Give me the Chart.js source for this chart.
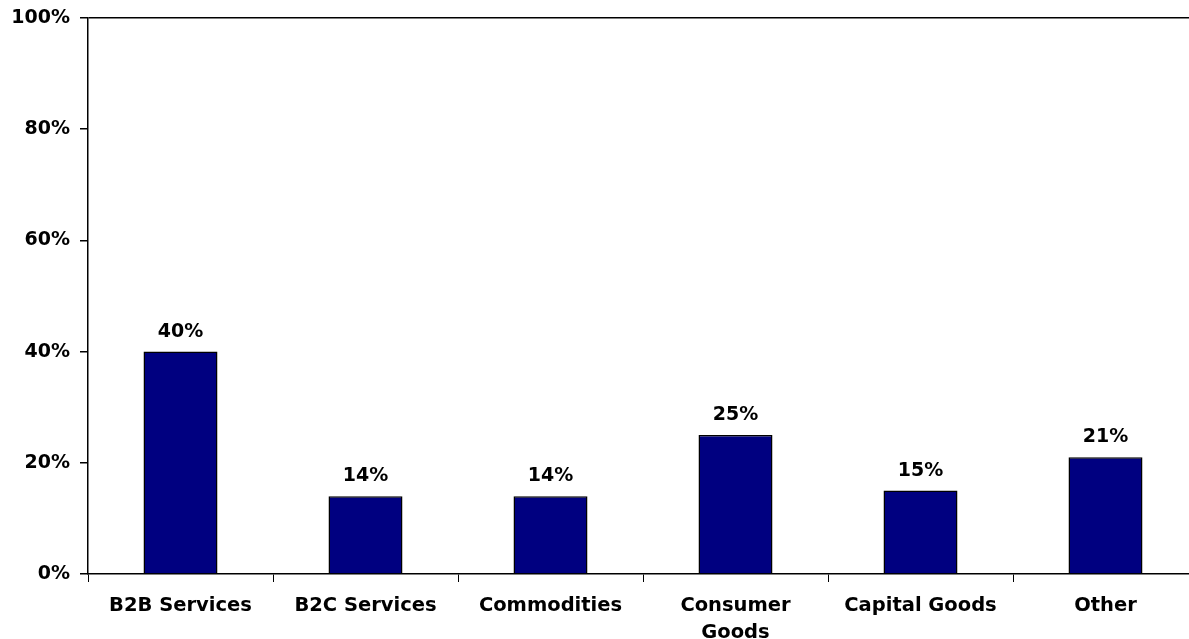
<!DOCTYPE html>
<html>
<head>
<meta charset="utf-8">
<script src="https://cdn.jsdelivr.net/npm/chart.js@4/dist/chart.umd.min.js"></script>
<style>
  body { margin: 0; background: #fff; overflow: hidden; }
  #wrap { width: 1198px; height: 639px; }
</style>
</head>
<body>
<div id="wrap"><canvas id="myChart" width="1198" height="639"></canvas></div>
<script>
const categories = ['B2B Services', 'B2C Services', 'Commodities', ['Consumer', 'Goods'], 'Capital Goods', 'Other'];
const shares = [40, 14, 14, 25, 15, 21];
const yTicks = [0, 20, 40, 60, 80, 100];

const FONT = '"DejaVu Sans", Verdana, sans-serif';

// writes the percentage over each bar
const barLabels = {
  id: 'barLabels',
  afterDatasetsDraw(chart) {
    const ctx = chart.ctx;
    const meta = chart.getDatasetMeta(0);
    ctx.save();
    ctx.font = 'bold 19px ' + FONT;
    ctx.fillStyle = '#000';
    ctx.textAlign = 'center';
    ctx.textBaseline = 'alphabetic';
    meta.data.forEach(function (bar, i) {
      ctx.fillText(shares[i] + '%', bar.x, bar.y - 15);
    });
    ctx.restore();
  }
};

new Chart(document.getElementById('myChart'), {
  type: 'bar',
  data: {
    labels: categories,
    datasets: [
      {
        data: shares,
        backgroundColor: '#000080',
        borderColor: '#000',
        borderWidth: 1.5,
        barPercentage: 0.4,
        categoryPercentage: 1,
      },
    ],
  },
  options: {
    responsive: false,
    animation: false,
    layout: { padding: { top: 18, right: 0, bottom: 0, left: 0 } },
    plugins: {
      legend: { display: false },
      tooltip: { enabled: false },
    },
    scales: {
      x: {
        offset: true,
        afterFit: function (scale) { scale.height = 65; },
        grid: {
          offset: true,
          drawOnChartArea: false,
          tickLength: 8,
          color: '#000',
          lineWidth: 1,
        },
        border: { color: '#000', width: 1.5 },
        ticks: {
          color: '#000',
          padding: 10,
          maxRotation: 0,
          autoSkip: false,
          font: { family: FONT, size: 19.5, weight: 'bold', lineHeight: 1.4 },
        },
      },
      y: {
        min: 0,
        max: 100,
        afterFit: function (scale) {
          scale.width = 88;
          scale.paddingTop = 0;
          scale.paddingBottom = 0;
        },
        afterBuildTicks: function (scale) {
          scale.ticks = yTicks.map(function (v) { return { value: v }; });
        },
        grid: {
          tickLength: 8,
          color: function (c) { return c.tick && c.tick.value === 100 ? '#000' : 'rgba(0,0,0,0)'; },
          tickColor: '#000',
          lineWidth: 1.5,
        },
        border: { color: '#000', width: 1.5 },
        ticks: {
          color: '#000',
          padding: 10,
          font: { family: FONT, size: 19, weight: 'bold' },
          callback: function (v) { return v + '%'; },
        },
      },
    },
  },
  plugins: [barLabels],
});
</script>
</body>
</html>
